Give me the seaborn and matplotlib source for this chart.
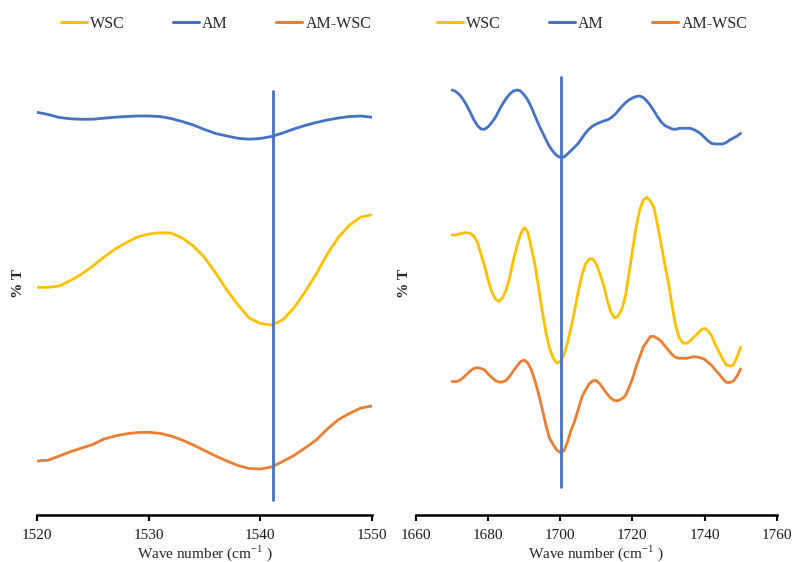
import numpy as np
import pandas as pd
import matplotlib
matplotlib.use("Agg")
import matplotlib.pyplot as plt
import seaborn as sns

# ---------------- data (relative %T, larger value = lower on plot; axis inverted) -------------
left_x = list(range(1520, 1551))
left_am = [112.3, 114.5, 117.5, 118.8, 119.3, 119.2, 118.2, 117.2, 116.5, 116, 116,
           116.5, 118.5, 121.5, 125, 129.5, 133.5, 136, 138.3, 139.2, 138.5,
           136.5, 133, 129, 125.5, 122.5, 120, 118, 116.5, 116, 117.3]
left_wsc = [287.3, 287.3, 286, 280.5, 274, 266, 257, 249, 242.5, 237, 234,
            232.8, 233, 238, 246, 257.5, 273, 290, 305, 318, 323.5,
            325, 320, 308, 292, 274, 254, 237, 225, 217, 214.7]
left_amwsc = [461, 460.2, 456, 451.7, 448, 444.5, 439, 436, 433.8, 432.5, 432.3,
              433.3, 436, 440, 445, 450.5, 456, 461, 465.5, 468.5, 469,
              467, 461.5, 455.5, 448, 440, 429, 419.5, 413.3, 408, 406]

right_x = list(range(1670, 1751))
right_am = [90, 91.5, 94.5, 99, 105, 112, 119.5, 125.5, 129, 129.3,
            126.7, 122.5, 117.5, 110.5, 104, 98.5, 94, 91, 90, 91,
            95, 100, 107.5, 116, 124.5, 132, 139.5, 146.5, 151.5, 155.5,
            157.3, 157, 154, 150.5, 147, 143.3, 138, 133, 129, 126,
            124, 122.5, 121, 120, 118, 115, 111, 106.7, 103, 100,
            98, 96.5, 96, 97.5, 101, 105.5, 111, 117, 122, 125.5,
            127.3, 129, 129.3, 128.3, 128.3, 128.3, 128.3, 129.5, 131.5, 134,
            137.5, 141, 143.5, 144, 144, 144, 142.5, 140, 138, 136,
            133.3]
right_wsc = [235, 235, 234, 233, 232.7, 233.3, 236, 242, 254, 266,
             280, 292, 299, 301.5, 298, 290, 277, 260, 246, 234,
             227.5, 232, 248, 265, 288, 311, 332, 348, 358, 363,
             361.5, 355, 343, 327, 310, 291, 275, 264, 259, 259,
             264, 274, 285, 300, 312, 318, 316, 310, 297, 275,
             251, 228, 210, 200, 197.3, 201, 208, 226, 245, 265,
             283.3, 306, 326, 338, 343, 343.3, 341, 337, 334, 330,
             328.3, 331, 336, 345, 352, 359, 365, 366, 365, 357,
             347]
right_amwsc = [381.5, 381.7, 380.5, 378, 374.5, 371, 368.5, 367.7, 368.5, 370,
               374, 377.5, 380.5, 382, 382, 380.3, 376, 371, 366, 361.5,
               360, 363, 370, 381, 394, 409, 425, 438, 444.5, 450,
               452.5, 451, 442, 430, 421, 409, 397, 390, 384, 380.7,
               380.5, 384, 389, 394, 398, 400.5, 400.7, 399, 396, 388,
               379, 367, 357, 347, 341.7, 336.5, 336.5, 338.5, 341.5, 346,
               350.5, 354.5, 357.5, 358.3, 358.3, 358.3, 357.5, 356.7, 357, 358,
               359.3, 362.5, 365.5, 370, 374, 378.5, 382.3, 382.5, 381, 376,
               369]

series_names = ["WSC", "AM", "AM-WSC"]
colors = {"WSC": "#FFC000", "AM": "#4472C4", "AM-WSC": "#ED7D31"}

left_ticks = [1520, 1530, 1540, 1550]
right_ticks = [1660, 1680, 1700, 1720, 1740, 1760]
left_marker = 1541.1
right_marker = 1700.3
xlabel = "Wave number (cm$^{-1}$ )"
ylabel = "% T"

# ---------------- build frames ----------------
def make_df(x, wsc, am, amwsc):
    parts = []
    for name, vals in zip(series_names, [wsc, am, amwsc]):
        parts.append(pd.DataFrame({"x": x, "T": vals, "series": name}))
    return pd.concat(parts, ignore_index=True)

df_left = make_df(left_x, left_wsc, left_am, left_amwsc)
df_right = make_df(right_x, right_wsc, right_am, right_amwsc)

sns.set_theme(style="white")
plt.rcParams["font.family"] = ["Liberation Serif", "DejaVu Serif"]
plt.rcParams["mathtext.fontset"] = "custom"
plt.rcParams["mathtext.rm"] = "Liberation Serif"

fig = plt.figure(figsize=(7.92, 5.62), dpi=100)
W, H = 792, 562
top_px, bot_px = 60, 515
axL = fig.add_axes([37 / W, (H - bot_px) / H, 335 / W, (bot_px - top_px) / H])
axR = fig.add_axes([416 / W, (H - bot_px) / H, 360.7 / W, (bot_px - top_px) / H])

panels = [
    (axL, df_left, (1520, 1550), left_ticks, left_marker, (91, 500), 216),
    (axR, df_right, (1660, 1760), right_ticks, right_marker, (77, 487), 592),
]

for ax, df, xlim, ticks, marker, (vt, vb), legx in panels:
    sns.lineplot(data=df, x="x", y="T", hue="series", hue_order=series_names,
                 palette=colors, linewidth=2.0, ax=ax, legend=False,
                 estimator=None, sort=True)
    ax.set_xlim(*xlim)
    ax.set_ylim(bot_px, top_px)
    ax.plot([marker, marker], [vb, vt], color="#4472C4", linewidth=2.0)
    ax.set_xticks(ticks)
    ax.set_xticklabels([str(t) for t in ticks], fontsize=11)
    ax.set_yticks([])
    ax.set_ylabel("")
    ax.set_xlabel(xlabel, fontsize=11, labelpad=1)
    for s in ["top", "right", "left"]:
        ax.spines[s].set_visible(False)
    ax.spines["bottom"].set_color("black")
    ax.spines["bottom"].set_linewidth(1.8)
    ax.tick_params(axis="x", direction="out", length=4, width=1.5, color="black",
                   bottom=True, pad=6, labelcolor="#1a1a1a")
    handles = [plt.Line2D([], [], color=colors[n], linewidth=2.2) for n in series_names]
    fig.legend(handles, series_names, loc="center", bbox_to_anchor=(legx / W, 1 - 24 / H),
               ncol=3, frameon=False, fontsize=11.5, handlelength=1.65,
               handletextpad=0.2, columnspacing=3.0)

fig.text(19 / W, 1 - 283 / H, ylabel, rotation=90, fontsize=11, fontweight="bold",
         ha="center", va="center")
fig.text(405 / W, 1 - 283 / H, ylabel, rotation=90, fontsize=11, fontweight="bold",
         ha="center", va="center")

fig.savefig("out.png", dpi=100)
